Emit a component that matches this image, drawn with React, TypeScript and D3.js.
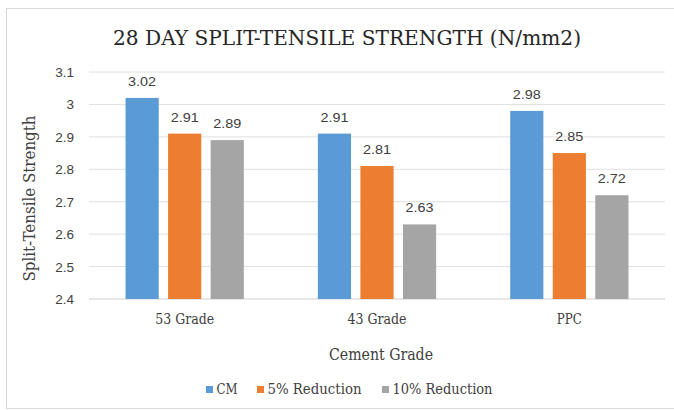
import React from "react";
import * as d3 from "d3";

const categories = ["53 Grade", "43 Grade", "PPC"];
const seriesNames = ["CM", "5% Reduction", "10% Reduction"];
const cmValues = [3.02, 2.91, 2.98];
const red5Values = [2.91, 2.81, 2.85];
const red10Values = [2.89, 2.63, 2.72];
const yTicks = [2.4, 2.5, 2.6, 2.7, 2.8, 2.9, 3, 3.1];
const colors = ["#5B9BD5", "#ED7D31", "#A5A5A5"];

const W = 674;
const H = 410;
const plot = { left: 89, right: 665, top: 72, bottom: 299 };
const serif = "'DejaVu Serif Condensed', 'DejaVu Serif', serif";
const sans = "'Liberation Sans', Arial, sans-serif";

export default function App() {
  const series = [cmValues, red5Values, red10Values];
  const x0 = d3.scaleBand<string>().domain(categories).range([plot.left, plot.right]).paddingInner(0.385).paddingOuter(0.19);
  const x1 = d3.scaleBand<string>().domain(seriesNames).range([0, x0.bandwidth()]).paddingInner(0.22);
  const y = d3.scaleLinear().domain([2.4, 3.1]).range([plot.bottom, plot.top]);

  const legendItems = [
    { name: seriesNames[0], x: 206, tw: 21 },
    { name: seriesNames[1], x: 257, tw: 94 },
    { name: seriesNames[2], x: 382, tw: 100 },
  ];

  return (
    <svg width={W} height={H} style={{ position: "absolute", left: 0, top: 0, background: "#fff" }}>
      <rect x={6.5} y={8.5} width={W} height={400} fill="#fff" stroke="#d9d9d9" strokeWidth={1} />
      <text x={113} y={45} fontFamily={serif} fontStretch="condensed" fontSize={21} fill="#262626" textLength={468} lengthAdjust="spacingAndGlyphs">
        28 DAY SPLIT-TENSILE STRENGTH (N/mm2)
      </text>
      {yTicks.map((t) => (
        <g key={t}>
          <line x1={plot.left} x2={plot.right} y1={y(t)} y2={y(t)} stroke={t === 2.4 ? "#cfcfcf" : "#e0e0e0"} strokeWidth={1} />
          <text x={74} y={y(t) + 5} textAnchor="end" fontFamily={sans} fontSize={13.5} fill="#404040">
            {String(t)}
          </text>
        </g>
      ))}
      {categories.map((c, ci) => (
        <g key={c}>
          {series.map((vals, si) => {
            const bx = (x0(c) as number) + (x1(seriesNames[si]) as number);
            const v = vals[ci];
            return (
              <g key={si}>
                <rect x={bx} y={y(v)} width={x1.bandwidth()} height={plot.bottom - y(v)} fill={colors[si]} />
                <text x={bx + x1.bandwidth() / 2} y={y(v) - 12} textAnchor="middle" fontFamily={sans} fontSize={13.5} fill="#404040" textLength={28} lengthAdjust="spacingAndGlyphs">
                  {v.toFixed(2)}
                </text>
              </g>
            );
          })}
          <text x={(x0(c) as number) + x0.bandwidth() / 2} y={324} textAnchor="middle" fontFamily={serif} fontStretch="condensed" fontSize={14.5} fill="#404040" textLength={c === "PPC" ? 25 : 59} lengthAdjust="spacingAndGlyphs">
            {c}
          </text>
        </g>
      ))}
      <text transform={`translate(34.5,198.5) rotate(-90)`} textAnchor="middle" fontFamily={serif} fontStretch="condensed" fontSize={16} fill="#404040" textLength={166} lengthAdjust="spacingAndGlyphs">
        Split-Tensile Strength
      </text>
      <text x={381} y={360} textAnchor="middle" fontFamily={serif} fontStretch="condensed" fontSize={16} fill="#404040" textLength={104} lengthAdjust="spacingAndGlyphs">
        Cement Grade
      </text>
      {legendItems.map((l, i) => (
        <g key={l.name}>
          <rect x={l.x} y={386} width={7} height={7} fill={colors[i]} />
          <text x={l.x + 10.5} y={394} fontFamily={serif} fontStretch="condensed" fontSize={14.5} fill="#404040" textLength={l.tw} lengthAdjust="spacingAndGlyphs">
            {l.name}
          </text>
        </g>
      ))}
    </svg>
  );
}
